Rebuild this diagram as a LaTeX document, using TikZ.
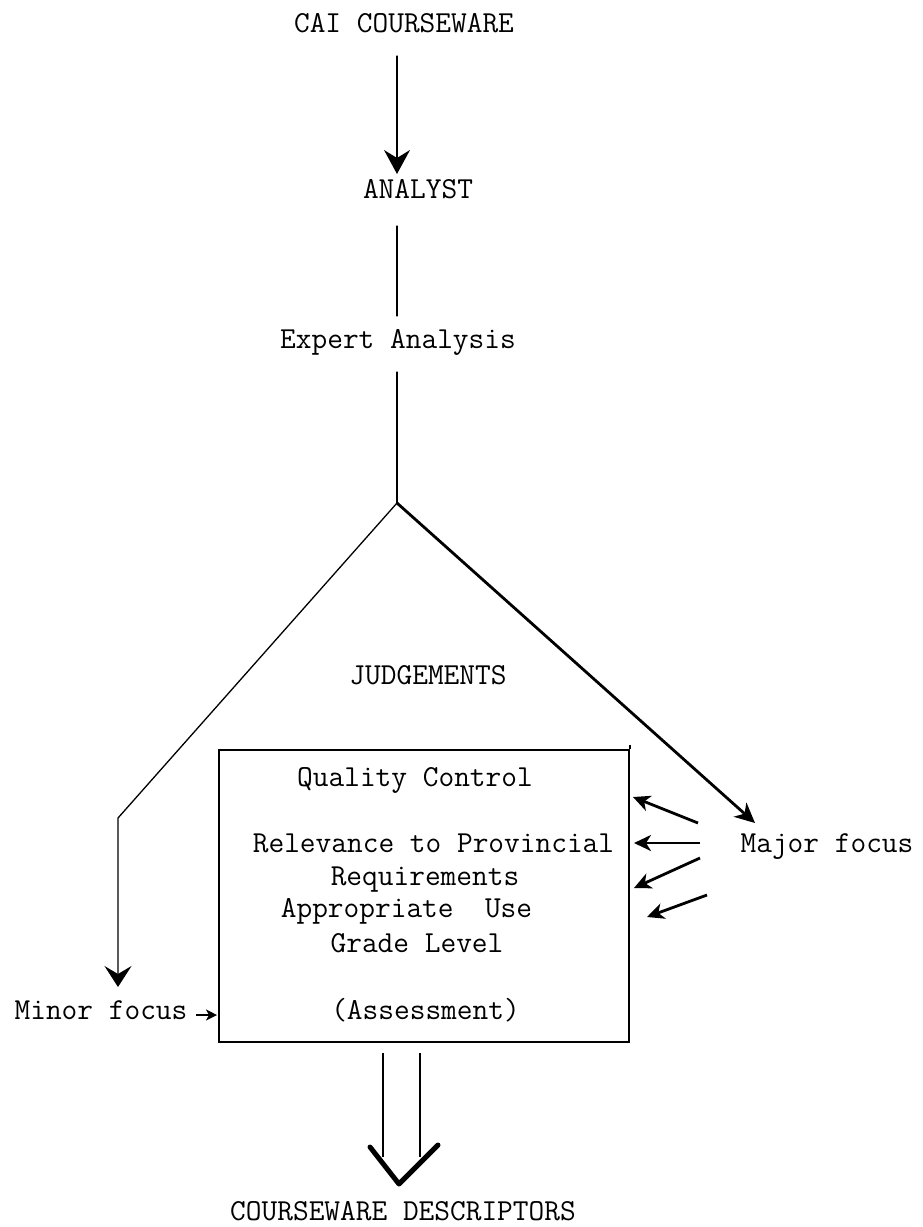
\documentclass[tikz,border=0pt]{standalone}
\usepackage{fontspec}
\usetikzlibrary{arrows.meta}
\begin{document}
\begin{tikzpicture}[x=1pt,y=-1pt,
  lbl/.style={anchor=base, inner sep=0pt, font=\ttfamily\fontsize{30.5}{34}\selectfont},
  mainline/.style={line width=1.3pt, line cap=round},
  bigtip/.style={-{Stealth[length=24pt,width=26pt,inset=8pt]}},
  lefttip/.style={-{Stealth[length=21pt,width=27pt,inset=8pt]}},
  majortip/.style={line width=2.8pt,-{Stealth[length=20pt,width=19pt,inset=6pt]}},
  sidearrow/.style={line width=2.8pt,-{Stealth[length=17pt,width=16pt,inset=5pt]}},
  smalltip/.style={line width=1.8pt,-{Stealth[length=11pt,width=11pt,inset=3pt]}},
  boxstyle/.style={draw, line width=1.8pt, minimum width=410pt, minimum height=292pt, inner sep=0pt},
  bigv/.style={line width=5pt, line cap=round, line join=round}
]
\useasboundingbox (0,0) rectangle (923,1227);

% texts
\node[lbl] (cai) at (404,32) {CAI COURSEWARE};
\node[lbl] (analyst) at (418,198) {ANALYST};
\node[lbl] (expert) at (398,348) {Expert Analysis};
\node[lbl] (judg) at (428,684) {JUDGEMENTS};
\node[boxstyle] (box) at (424,896) {};
\node[lbl] (qc) at (415,786) {Quality Control};
\node[lbl] (rel) at (433.5,852) {Relevance to Provincial};
\node[lbl] (req) at (425,885) {Requirements};
\node[lbl] (app) at (406.5,917) {Appropriate\ \ Use};
\node[lbl] (grade) at (417,952) {Grade Level};
\node[lbl] (assess) at (425.5,1019) {(Assessment)};
\node[lbl] (major) at (827,852) {Major focus};
\node[lbl] (minor) at (101,1019) {Minor focus};
\node[lbl] (desc) at (403,1220) {COURSEWARE DESCRIPTORS};

% coordinates
\coordinate (c1) at (397,56);
\coordinate (c2) at (397,174);
\coordinate (a1) at (397,226);
\coordinate (a2) at (397,316);
\coordinate (e1) at (397,372);
\coordinate (apex) at (397,503);
\coordinate (lc) at (118,818);
\coordinate (ltip) at (118,987);
\coordinate (rtip) at (755,823);
\coordinate (m1s) at (698,823);  \coordinate (m1e) at (633,797);
\coordinate (m2s) at (700,843);  \coordinate (m2e) at (634,843);
\coordinate (m3s) at (700,858);  \coordinate (m3e) at (634,888);
\coordinate (m4s) at (707,895);  \coordinate (m4e) at (647,917);
\coordinate (n1) at (196,1015);
\coordinate (n2) at (217,1015);
\coordinate (d1) at (383,1053); \coordinate (d1e) at (383,1157);
\coordinate (d2) at (420,1053); \coordinate (d2e) at (420,1157);
\coordinate (vl) at (370,1147);
\coordinate (vb) at (399,1184);
\coordinate (vr) at (438,1145);

% connectors
\draw[mainline, bigtip] (c1) -- (c2);
\draw[mainline] (a1) -- (a2);
\draw[mainline] (e1) -- (apex);
\draw[mainline, lefttip] (apex) -- (lc) -- (ltip);
\draw[majortip] (apex) -- (rtip);
\draw[sidearrow] (m1s) -- (m1e);
\draw[sidearrow] (m2s) -- (m2e);
\draw[sidearrow] (m3s) -- (m3e);
\draw[sidearrow] (m4s) -- (m4e);
\draw[smalltip] (n1) -- (n2);
\draw[line width=1.8pt] (box.north east) -- ++(0,-4);
\draw[line width=1.6pt] (d1) -- (d1e);
\draw[line width=1.6pt] (d2) -- (d2e);
\draw[bigv] (vl) -- (vb) -- (vr);
\end{tikzpicture}
\end{document}
